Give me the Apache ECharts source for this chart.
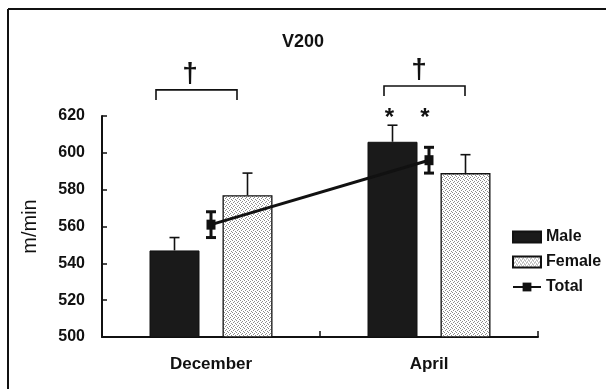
<!DOCTYPE html>
<html>
<head>
<meta charset="utf-8">
<script src="https://cdn.jsdelivr.net/npm/echarts@6/dist/echarts.min.js"></script>
<style>
html,body{margin:0;padding:0;background:#fff;}
#chart{width:606px;height:389px;}
</style>
</head>
<body>
<div id="chart"></div>
<script>
// ---- data ----
const categories = ['December', 'April'];
const maleValues = [547, 606];
const maleErrors = [7, 9];
const femaleValues = [577, 589];
const femaleErrors = [12, 10];
const totalValues = [561, 596];
const totalErrors = [7, 7];
const seriesNames = ['Male', 'Female', 'Total'];
const yMin = 500, yMax = 620, yStep = 20;
const titleText = 'V200';
const yAxisName = 'm/min';
const significanceMark = '\u2020';
const starCategories = [1];

// ---- stipple pattern for Female ----
const pc = document.createElement('canvas');
pc.width = 4; pc.height = 4;
const pctx = pc.getContext('2d');
pctx.fillStyle = '#ffffff'; pctx.fillRect(0, 0, 4, 4);
pctx.fillStyle = '#8c8c8c';
[[0,0],[2,1],[1,2],[3,3]].forEach(p => pctx.fillRect(p[0], p[1], 1, 1));
const femalePattern = { image: pc, repeat: 'repeat' };

const BAR_W = 50, OFFSET = 36.5;
const font = 'Liberation Sans, Arial, sans-serif';

// error bar data: [categoryIndex, value, error, kind] kind: -1 male, 1 female, 0 total
const errData = [];
categories.forEach((c, i) => {
  errData.push([i, maleValues[i], maleErrors[i], -1]);
  errData.push([i, femaleValues[i], femaleErrors[i], 1]);
  errData.push([i, totalValues[i], totalErrors[i], 0]);
});

function renderErr(params, api) {
  const idx = api.value(0), v = api.value(1), e = api.value(2), kind = api.value(3);
  const base = api.coord([idx, v]);
  const x = base[0] + kind * OFFSET;
  const top = api.coord([idx, v + e])[1];
  const children = [];
  if (kind === 0) {
    const bot = api.coord([idx, v - e])[1];
    children.push({ type: 'line', shape: { x1: x, y1: top, x2: x, y2: bot }, style: { stroke: '#111', lineWidth: 3 } });
    children.push({ type: 'line', shape: { x1: x - 5, y1: top, x2: x + 5, y2: top }, style: { stroke: '#111', lineWidth: 3 } });
    children.push({ type: 'line', shape: { x1: x - 5, y1: bot, x2: x + 5, y2: bot }, style: { stroke: '#111', lineWidth: 3 } });
  } else {
    children.push({ type: 'line', shape: { x1: x, y1: base[1], x2: x, y2: top }, style: { stroke: '#111', lineWidth: 1.6 } });
    children.push({ type: 'line', shape: { x1: x - 5, y1: top, x2: x + 5, y2: top }, style: { stroke: '#111', lineWidth: 1.6 } });
  }
  return { type: 'group', children: children };
}

// bracket annotations per category
const bracketDef = [
  { lvl: 634.2, leg: 5.5, l: -55, r: 26, dag: -21 },
  { lvl: 636.3, leg: 5.5, l: -45, r: 36, dag: -10 }
];
function renderAnno(params, api) {
  const idx = api.value(0);
  const d = bracketDef[idx];
  const c = api.coord([idx, d.lvl]);
  const legY = api.coord([idx, d.lvl - d.leg])[1];
  const children = [
    { type: 'polyline', shape: { points: [[c[0] + d.l, legY], [c[0] + d.l, c[1]], [c[0] + d.r, c[1]], [c[0] + d.r, legY]] },
      style: { stroke: '#111', lineWidth: 1.6, fill: null } },
    { type: 'text', x: c[0] + d.dag, y: c[1] - 16, style: { text: significanceMark, font: 'bold 28px ' + font, fill: '#111', align: 'center', verticalAlign: 'middle' } }
  ];
  if (starCategories.indexOf(idx) >= 0) {
    const sy = api.coord([idx, 621.5])[1];
    children.push({ type: 'text', x: c[0] - OFFSET - 3, y: sy + 5, style: { text: '*', font: 'bold 24px ' + font, fill: '#111', align: 'center', verticalAlign: 'middle' } });
    children.push({ type: 'text', x: c[0] - 4, y: sy + 5, style: { text: '*', font: 'bold 24px ' + font, fill: '#111', align: 'center', verticalAlign: 'middle' } });
  }
  return { type: 'group', children: children };
}

const chart = echarts.init(document.getElementById('chart'), null, { renderer: 'canvas' });
chart.setOption({
  animation: false,
  backgroundColor: '#fff',
  title: {
    text: titleText, left: 'center', top: 28,
    textStyle: { fontFamily: font, fontSize: 18, fontWeight: 'bold', color: '#111' }
  },
  legend: {
    orient: 'vertical', left: 512, top: 229,
    itemWidth: 28, itemHeight: 11, itemGap: 9, padding: 0,
    data: [{ name: seriesNames[0], icon: 'rect' }, { name: seriesNames[1], icon: 'rect' }, { name: seriesNames[2] }],
    textStyle: { fontFamily: font, fontSize: 16, fontWeight: 'bold', color: '#111', padding: [0, 0, 0, 0] }
  },
  grid: { left: 102, right: 68, top: 116, bottom: 52 },
  xAxis: {
    type: 'category', data: categories,
    axisLine: { lineStyle: { color: '#111', width: 2 } },
    axisTick: { show: true, inside: true, length: 6, lineStyle: { width: 1.5, color: '#111' } },
    axisLabel: { fontFamily: font, fontSize: 17, fontWeight: 'bold', color: '#111', margin: 19 }
  },
  yAxis: {
    type: 'value', min: yMin, max: yMax, interval: yStep,
    name: yAxisName, nameLocation: 'middle', nameGap: 62, nameRotate: 90,
    nameTextStyle: { fontFamily: font, fontSize: 20, color: '#111' },
    axisLine: { show: true, lineStyle: { color: '#111', width: 2 } },
    axisTick: { show: true, inside: true, length: 5, lineStyle: { width: 1.5, color: '#111' } },
    splitLine: { show: false },
    axisLabel: { fontFamily: font, fontSize: 16, fontWeight: 'bold', color: '#111', margin: 17 }
  },
  series: [
    { name: seriesNames[0], type: 'bar', data: maleValues, barWidth: BAR_W, barGap: '46%',
      itemStyle: { color: '#1a1a1a', borderColor: '#111', borderWidth: 1 } },
    { name: seriesNames[1], type: 'bar', data: femaleValues, barWidth: BAR_W,
      itemStyle: { color: femalePattern, borderColor: '#111', borderWidth: 1.3 } },
    { name: seriesNames[2], type: 'line', data: totalValues, z: 5,
      symbol: 'rect', symbolSize: [9, 10],
      lineStyle: { color: '#111', width: 3 }, itemStyle: { color: '#111' } },
    { type: 'custom', data: errData, renderItem: renderErr, z: 6, silent: true },
    { type: 'custom', data: categories.map((c, i) => [i]), renderItem: renderAnno, z: 6, silent: true }
  ],
  graphic: [
    { type: 'line', shape: { x1: 8, y1: 9, x2: 606, y2: 9 }, style: { stroke: '#111', lineWidth: 2 } },
    { type: 'line', shape: { x1: 8, y1: 9, x2: 8, y2: 389 }, style: { stroke: '#111', lineWidth: 2 } }
  ]
});
</script>
</body>
</html>
